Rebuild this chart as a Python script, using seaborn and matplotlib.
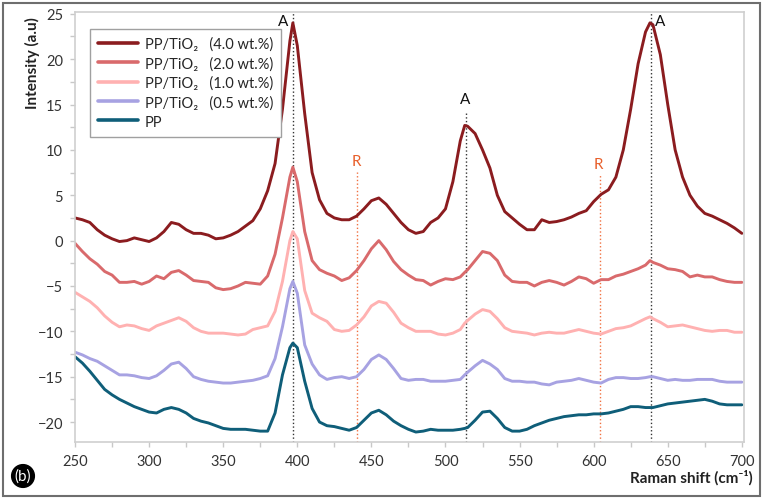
import matplotlib
matplotlib.use('Agg')
import matplotlib.pyplot as plt
from matplotlib.patches import Rectangle
from matplotlib.ticker import MultipleLocator
import pandas as pd
import seaborn as sns

# Raman shift positions (cm-1)
raman_shift = [250, 255, 260, 265, 270, 275, 280, 285, 290, 295,
               300, 305, 310, 315, 320, 325, 330, 335, 340, 345,
               350, 355, 360, 365, 370, 375, 380, 385, 390, 395,
               397,
               400, 405, 410, 415, 420, 425, 430, 435, 440, 445,
               450, 455, 460, 465, 470, 475, 480, 485, 490, 495,
               500, 505, 510,
               513,
               515, 520, 525, 530, 535, 540, 545, 550, 555, 560,
               565, 570, 575, 580, 585, 590, 595, 600, 605, 610,
               615, 620, 625, 630, 635,
               638,
               640, 645, 650, 655, 660, 665, 670, 675, 680, 685,
               690, 695, 700]

tio2_40 = [2.5, 2.3, 2.0, 1.2, 0.6, 0.2, -0.1, 0.0, 0.3, 0.1,
           -0.1, 0.3, 1.0, 2.0, 1.8, 1.2, 0.8, 0.8, 0.6, 0.2,
           0.3, 0.6, 1.0, 1.6, 2.2, 3.5, 5.5, 8.5, 14.5, 22.0,
           24.0,
           21.5, 14.0, 7.5, 4.5, 3.0, 2.5, 2.3, 2.3, 2.7, 3.5,
           4.4, 4.7, 4.0, 3.0, 2.0, 1.2, 0.8, 1.0, 2.0, 2.5,
           3.5, 6.5, 11.0,
           12.7,
           12.6, 11.8, 10.0, 8.0, 5.0, 3.2, 2.5, 1.8, 1.2, 1.2,
           2.3, 2.0, 2.1, 2.3, 2.6, 3.0, 3.3, 4.3, 5.1, 5.6,
           7.0, 10.0, 14.5, 19.5, 23.0,
           24.0,
           23.8, 20.5, 15.0, 10.0, 7.0, 5.0, 3.8, 3.0, 2.7, 2.3,
           1.9, 1.4, 0.8]

tio2_20 = [-0.3, -1.2, -2.0, -2.6, -3.4, -3.8, -4.6, -4.6, -4.5, -4.8,
           -4.5, -3.9, -4.2, -3.5, -3.3, -3.8, -4.4, -4.5, -4.6, -5.2,
           -5.4, -5.3, -5.0, -4.6, -4.7, -4.8, -3.9, -1.5, 2.5, 7.0,
           8.1,
           6.5, 1.0, -2.2, -3.2, -3.6, -3.9, -4.4, -4.1, -3.3, -2.2,
           -0.9, 0.0, -1.0, -2.3, -3.2, -3.8, -4.3, -4.4, -4.9, -4.5,
           -4.2, -4.3, -4.0,
           -3.5,
           -3.2, -2.2, -1.2, -1.4, -2.2, -3.8, -4.5, -4.6, -4.6, -5.0,
           -4.6, -4.4, -4.6, -4.9, -4.5, -4.0, -4.2, -4.7, -4.3, -4.3,
           -3.9, -3.7, -3.4, -3.1, -2.7,
           -2.2,
           -2.4, -2.7, -3.1, -3.2, -3.4, -4.0, -3.8, -4.0, -4.0, -4.3,
           -4.5, -4.6, -4.6]

tio2_10 = [-5.7, -6.2, -6.7, -7.4, -8.3, -9.0, -9.5, -9.3, -9.4, -9.7,
           -9.9, -9.4, -9.1, -8.8, -8.5, -8.9, -9.6, -10.0, -10.2, -10.2,
           -10.2, -10.3, -10.4, -10.3, -9.8, -9.6, -9.4, -7.8, -4.5, 0.0,
           1.0,
           0.2, -5.5, -8.0, -8.5, -8.9, -9.8, -10.0, -9.9, -9.3, -8.4,
           -7.2, -6.7, -6.9, -7.9, -9.1, -9.6, -10.0, -10.0, -10.0, -10.3,
           -10.4, -10.2, -9.8,
           -9.1,
           -8.8, -8.1, -7.6, -7.8, -8.6, -9.6, -10.0, -10.1, -10.2, -10.4,
           -10.2, -10.1, -10.2, -10.2, -10.0, -9.8, -10.0, -10.2, -10.3, -10.0,
           -9.7, -9.6, -9.4, -9.0, -8.6,
           -8.4,
           -8.6, -9.0, -9.5, -9.4, -9.3, -9.5, -9.7, -9.9, -10.0, -9.9,
           -9.9, -10.1, -10.1]

tio2_05 = [-12.3, -12.6, -13.0, -13.3, -13.8, -14.3, -14.8, -14.8, -14.9, -15.1,
           -15.2, -14.9, -14.3, -13.6, -13.4, -14.1, -15.0, -15.3, -15.5, -15.6,
           -15.7, -15.7, -15.6, -15.5, -15.4, -15.2, -14.9, -13.0, -9.5, -5.3,
           -4.5,
           -5.8, -11.5, -13.6, -14.8, -15.3, -15.1, -15.0, -15.2, -15.0, -14.2,
           -13.1, -12.6, -13.1, -14.1, -15.2, -15.4, -15.3, -15.3, -15.5, -15.5,
           -15.5, -15.4, -15.3,
           -14.8,
           -14.5, -13.8, -13.2, -13.6, -14.2, -15.2, -15.5, -15.5, -15.6, -15.6,
           -15.8, -15.9, -15.6, -15.5, -15.4, -15.2, -15.4, -15.6, -15.7, -15.3,
           -15.1, -15.1, -15.2, -15.2, -15.1,
           -15.0,
           -15.0, -15.2, -15.4, -15.3, -15.4, -15.4, -15.3, -15.3, -15.3, -15.5,
           -15.6, -15.6, -15.6]

pp = [-12.8, -13.5, -14.4, -15.4, -16.4, -17.0, -17.5, -17.9, -18.3, -18.6,
      -18.9, -19.0, -18.6, -18.4, -18.6, -19.0, -19.6, -19.9, -20.1, -20.4,
      -20.7, -20.8, -20.8, -20.8, -20.9, -21.0, -21.0, -19.0, -14.8, -11.8,
      -11.3,
      -11.8, -15.5, -18.5, -20.0, -20.4, -20.5, -20.7, -20.9, -20.6, -19.8,
      -19.0, -18.7, -19.2, -19.9, -20.4, -20.8, -21.1, -21.0, -20.8, -20.9,
      -20.9, -20.9, -20.8,
      -20.7,
      -20.6, -19.8, -18.9, -18.8, -19.6, -20.6, -21.0, -21.0, -20.8, -20.4,
      -20.1, -19.8, -19.6, -19.4, -19.3, -19.2, -19.2, -19.1, -19.1, -19.0,
      -18.8, -18.6, -18.3, -18.3, -18.4,
      -18.4,
      -18.4, -18.2, -18.0, -17.9, -17.8, -17.7, -17.6, -17.5, -17.7, -18.0,
      -18.1, -18.1, -18.1]

samples = ['PP/TiO₂   (4.0 wt.%)', 'PP/TiO₂   (2.0 wt.%)', 'PP/TiO₂   (1.0 wt.%)',
           'PP/TiO₂   (0.5 wt.%)', 'PP']
colors = ['#8b1c1f', '#d96a6c', '#ffb1b1', '#a7a2e2', '#0f5e79']

# anatase (A) and rutile (R) band positions
anatase_pos = [397, 513.7, 638.7]
rutile_pos = [440, 604]

df = pd.concat([pd.DataFrame({'shift': raman_shift, 'intensity': vals, 'sample': name})
                for name, vals in zip(samples, [tio2_40, tio2_20, tio2_10, tio2_05, pp])])

sns.set_theme(style='white')
plt.rcParams['font.family'] = ['Lato', 'DejaVu Sans']

fig = plt.figure(figsize=(7.64, 5.02), dpi=100)
ax = fig.add_axes([0.0982, 0.1175, 0.8757, 0.8566])

ymin, ymax = -22.2, 25.2

# marker lines for the bands
ax.vlines(anatase_pos[0], ymin, ymax, colors='#333333', linestyles=':', lw=1, zorder=1)
ax.vlines(anatase_pos[1], ymin, 14.3, colors='#333333', linestyles=':', lw=1, zorder=1)
ax.vlines(anatase_pos[2], ymin, ymax, colors='#333333', linestyles=':', lw=1, zorder=1)
ax.vlines(rutile_pos[0], ymin, 7.6, colors='#f07040', linestyles=':', lw=1, zorder=1)
ax.vlines(rutile_pos[1], ymin, 7.3, colors='#f07040', linestyles=':', lw=1, zorder=1)

sns.lineplot(data=df, x='shift', y='intensity', hue='sample', hue_order=samples,
             palette=colors, linewidth=2.1, estimator=None, sort=False, ax=ax, zorder=2)

ax.text(390.5, 24.2, 'A', ha='center', va='center', fontsize=11, color='#111111')
ax.text(513.5, 15.6, 'A', ha='center', va='center', fontsize=11, color='#111111')
ax.text(645.0, 24.2, 'A', ha='center', va='center', fontsize=11, color='#111111')
ax.text(439.6, 8.8, 'R', ha='center', va='center', fontsize=11, color='#e8602c')
ax.text(603.5, 8.5, 'R', ha='center', va='center', fontsize=11, color='#e8602c')

ax.set_xlim(250, 701.5)
ax.set_ylim(ymin, ymax)
ax.xaxis.set_major_locator(MultipleLocator(50))
ax.xaxis.set_minor_locator(MultipleLocator(25))
ax.yaxis.set_major_locator(MultipleLocator(5))
ax.yaxis.set_minor_locator(MultipleLocator(2.5))
ax.tick_params(which='both', direction='out', length=3.5, width=1, color='#c8c8c8',
               labelcolor='#333333', labelsize=10.5, pad=5, bottom=True, left=True)
for sp in ax.spines.values():
    sp.set_color('#cfcfcf')
    sp.set_linewidth(1.2)

ax.set_ylabel('Intensity (a.u)', fontsize=11, fontweight='bold', color='#222222')
ax.yaxis.set_label_coords(-0.052, 0.884)
ax.set_xlabel('Raman shift (cm⁻¹)', fontsize=11, fontweight='bold', color='#222222')
ax.xaxis.label.set_ha('right')
ax.xaxis.set_label_coords(1.013, -0.063)

handles, labels = ax.get_legend_handles_labels()
leg = ax.legend(handles, labels, loc='upper left', bbox_to_anchor=(0.012, 0.978),
                frameon=True, fancybox=False, edgecolor='#a0a0a0', framealpha=1,
                fontsize=10.5, handlelength=2.7, handletextpad=0.5,
                labelspacing=0.35, borderpad=0.55)
for h in leg.legend_handles:
    h.set_linewidth(2.6)

# outer frame and panel tag
fig.patches.append(Rectangle((0.004, 0.01), 0.991, 0.982, transform=fig.transFigure,
                             fill=False, edgecolor='#6e6e6e', lw=1.5))
fig.text(23 / 764, 1 - 477 / 502, '(b)', color='white', ha='center', va='center',
         fontsize=11, bbox=dict(boxstyle='circle,pad=0.2', fc='black', ec='black'))

fig.savefig('out.png', dpi=100)
